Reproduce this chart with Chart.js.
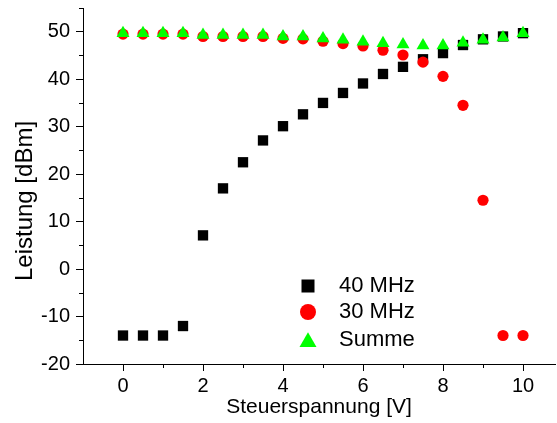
<!DOCTYPE html>
<html>
<head>
<meta charset="utf-8">
<script src="https://cdn.jsdelivr.net/npm/chart.js@4"></script>
<style>
  html, body { margin: 0; padding: 0; background: #fff; }
  #wrap { width: 557px; height: 423px; }
</style>
</head>
<body>
<div id="wrap"><canvas id="c" width="557" height="423"></canvas></div>
<script>
// Steuerspannung in V
const spannung = [0, 0.5, 1, 1.5, 2, 2.5, 3, 3.5, 4, 4.5, 5, 5.5, 6, 6.5, 7, 7.5, 8, 8.5, 9, 9.5, 10];

// Leistung in dBm
const p40 = [-14, -14, -14, -12, 7.1, 17, 22.5, 27.1, 30.1, 32.6, 35, 37.1, 39.1, 41.1, 42.6, 44.2, 45.5, 47.2, 48.4, 49, 49.7];
const p30 = [49.5, 49.5, 49.5, 49.5, 49, 49, 49, 49, 48.6, 48.5, 48, 47.5, 47, 46.1, 45.1, 43.6, 40.6, 34.5, 14.5, -14, -14];
const summe = [49.7, 49.7, 49.7, 49.7, 49.3, 49.3, 49.3, 49.3, 49, 49, 48.6, 48.3, 47.9, 47.6, 47.3, 47.1, 47.1, 47.7, 48.3, 48.8, 49.7];

const seriesNames = ['40 MHz', '30 MHz', 'Summe'];
const yTitle = 'Leistung [dBm]';

const xMajor = [0, 2, 4, 6, 8, 10];
const xMinor = [1, 3, 5, 7, 9];
const yMajor = [-20, -10, 0, 10, 20, 30, 40, 50];
const yMinor = [-15, -5, 5, 15, 25, 35, 45, 55];

const FONT = '"Liberation Sans", Arial, sans-serif';
const toPts = (ys) => spannung.map((x, i) => ({ x: x, y: ys[i] }));

// kleine Ticks, y-Titel und Legende
const extras = {
  id: 'extras',
  afterDraw(chart) {
    const ctx = chart.ctx;
    const xs = chart.scales.x, ys = chart.scales.y;
    ctx.save();
    ctx.strokeStyle = '#000';
    ctx.lineWidth = 1;
    ctx.beginPath();
    xMinor.forEach(v => {
      const px = Math.round(xs.getPixelForValue(v)) + 0.5;
      ctx.moveTo(px, xs.top);
      ctx.lineTo(px, xs.top + 4);
    });
    yMinor.forEach(v => {
      const py = Math.round(ys.getPixelForValue(v)) + 0.5;
      ctx.moveTo(ys.right - 4, py);
      ctx.lineTo(ys.right, py);
    });
    ctx.stroke();

    // y-Achsentitel (etwas unter der Mitte, wie im Original)
    ctx.fillStyle = '#000';
    ctx.font = '24px ' + FONT;
    ctx.textAlign = 'center';
    ctx.textBaseline = 'middle';
    ctx.translate(25, (ys.top + ys.bottom) / 2 + 15);
    ctx.rotate(-Math.PI / 2);
    ctx.fillText(yTitle, 0, 0);
    ctx.setTransform(1, 0, 0, 1, 0, 0);

    // Legende
    const ca = chart.chartArea;
    const lx = ca.left + 225, tx = ca.left + 256;
    const rows = [ca.top + 278, ca.top + 304, ca.top + 332];
    const styles = [
      { pointStyle: 'rect', radius: 9.2, color: '#000000' },
      { pointStyle: 'circle', radius: 8, color: '#ff0000' },
      { pointStyle: 'triangle', radius: 9.8, color: '#00ff00' }
    ];
    ctx.font = '22px ' + FONT;
    ctx.textBaseline = 'middle';
    ctx.textAlign = 'left';
    styles.forEach((s, i) => {
      ctx.fillStyle = s.color;
      Chart.helpers.drawPoint(ctx, { pointStyle: s.pointStyle, radius: s.radius, rotation: 0, borderWidth: 0 }, lx, rows[i] + (s.pointStyle === 'triangle' ? 2 : 0));
      ctx.fillStyle = '#000';
      ctx.fillText(seriesNames[i], tx, rows[i]);
    });
    ctx.restore();
  }
};

new Chart(document.getElementById('c'), {
  type: 'scatter',
  data: {
    datasets: [
      { label: seriesNames[0], data: toPts(p40), pointStyle: 'rect', pointRadius: 7.3, backgroundColor: '#000000', borderWidth: 0, order: 3 },
      { label: seriesNames[1], data: toPts(p30), pointStyle: 'circle', pointRadius: 5.6, backgroundColor: '#ff0000', borderWidth: 0, order: 2 },
      { label: seriesNames[2], data: toPts(summe), pointStyle: 'triangle', pointRadius: 7.5, backgroundColor: '#00ff00', borderWidth: 0, order: 1 }
    ]
  },
  options: {
    responsive: false,
    animation: false,
    events: [],
    layout: { autoPadding: false, padding: { top: 8, right: 2, left: 0, bottom: 0 } },
    plugins: { legend: { display: false }, tooltip: { enabled: false } },
    scales: {
      x: {
        type: 'linear', min: -1, max: 10.8,
        afterFit(s) { s.height = 59; s.paddingLeft = 0; s.paddingRight = 0; },
        afterBuildTicks(s) { s.ticks = xMajor.map(v => ({ value: v })); },
        grid: { drawOnChartArea: false, drawTicks: true, tickLength: 7, color: '#000' },
        border: { color: '#000', width: 1 },
        ticks: { color: '#000', padding: 3, font: { family: FONT, size: 20 } },
        title: { display: true, text: 'Steuerspannung [V]', color: '#000', padding: { top: 0, bottom: 3 },
                 font: { family: FONT, size: 21 } }
      },
      y: {
        type: 'linear', min: -20, max: 55,
        afterFit(s) { s.width = 83; s.paddingTop = 0; s.paddingBottom = 0; },
        afterBuildTicks(s) { s.ticks = yMajor.map(v => ({ value: v })); },
        grid: { drawOnChartArea: false, drawTicks: true, tickLength: 7, color: '#000' },
        border: { color: '#000', width: 1 },
        ticks: { color: '#000', padding: 6, font: { family: FONT, size: 20 } },
        title: { display: false }
      }
    }
  },
  plugins: [extras]
});
</script>
</body>
</html>
